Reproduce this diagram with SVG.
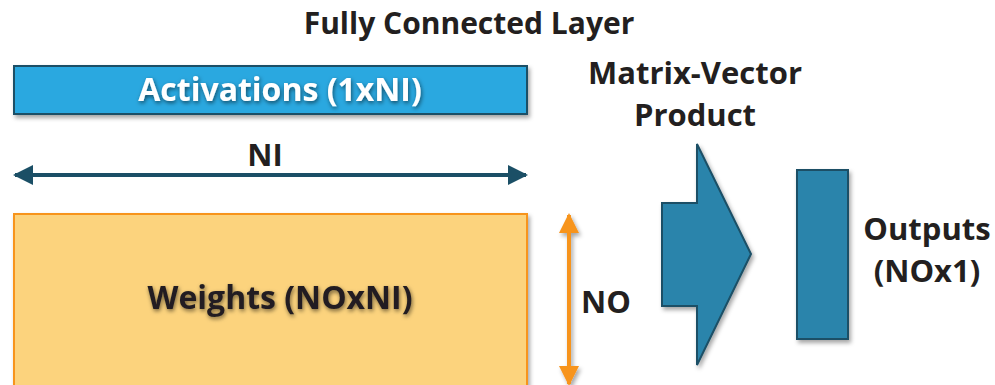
<svg xmlns="http://www.w3.org/2000/svg" width="995" height="385" viewBox="0 0 995 385">
<defs>
<style>
text{font-family:"Open Sans","Liberation Sans",sans-serif;font-weight:bold;}
.lbl{fill:#231F20;font-size:31px;}
.blue{fill:#2A84AB;stroke:#1A4F66;stroke-width:2;}
</style>
<filter id="sh" x="-10%" y="-10%" width="130%" height="140%">
<feDropShadow dx="2" dy="3" stdDeviation="2" flood-color="#000" flood-opacity="0.35"/>
</filter>
<filter id="lsh" filterUnits="userSpaceOnUse" x="540" y="200" width="60" height="200">
<feDropShadow dx="2" dy="3" stdDeviation="2" flood-color="#000" flood-opacity="0.35"/>
</filter>
<filter id="tsh" x="-10%" y="-30%" width="120%" height="170%">
<feDropShadow dx="1" dy="2" stdDeviation="2" flood-color="#000" flood-opacity="0.55"/>
</filter>
<marker id="ah-navy" viewBox="0 0 10 10" refX="9" refY="5" markerWidth="5" markerHeight="5" orient="auto-start-reverse">
<path d="M0,0 L10,5 L0,10 Z" fill="#1B4F66"/>
</marker>
<marker id="ah-orange" viewBox="0 0 10 10" refX="9" refY="5" markerWidth="5" markerHeight="5" orient="auto-start-reverse">
<path d="M0,0 L10,5 L0,10 Z" fill="#F7941D"/>
</marker>
</defs>
<rect width="995" height="385" fill="#fff"/>
<text x="469" y="34" class="lbl" text-anchor="middle" style="font-size:30px">Fully Connected Layer</text>
<g id="activations">
<rect x="14" y="66" width="513" height="48" fill="#29A8E0" stroke="#1B4F66" stroke-width="2" filter="url(#sh)"/>
<text x="280" y="101" font-size="32" fill="#fff" text-anchor="middle" filter="url(#tsh)">Activations (1xNI)</text>
</g>
<g id="weights">
<rect x="14" y="214" width="513" height="175" fill="#FCD37D" stroke="#F7941D" stroke-width="2" filter="url(#sh)"/>
<text x="280" y="309" font-size="32" fill="#231F20" text-anchor="middle" filter="url(#tsh)">Weights (NOxNI)</text>
</g>
<g id="matvec">
<path class="blue" d="M662,203 L697,203 L697,144 L751,254 L697,365 L697,306 L662,306 Z" filter="url(#sh)"/>
<text x="695" y="84" class="lbl" text-anchor="middle">Matrix-Vector</text>
<text x="695" y="126" class="lbl" text-anchor="middle">Product</text>
</g>
<g id="outputs">
<rect class="blue" x="797" y="170" width="51" height="169" filter="url(#sh)"/>
<text x="927" y="240" class="lbl" text-anchor="middle">Outputs</text>
<text x="927" y="282" class="lbl" text-anchor="middle">(NOx1)</text>
</g>
<g id="connectors">
<line x1="15" y1="175" x2="526" y2="175" stroke="#1B4F66" stroke-width="4" marker-start="url(#ah-navy)" marker-end="url(#ah-navy)"/>
<text x="265" y="166" class="lbl" text-anchor="middle">NI</text>
<line x1="569" y1="215" x2="569" y2="384" stroke="#F7941D" stroke-width="4" marker-start="url(#ah-orange)" marker-end="url(#ah-orange)" filter="url(#lsh)"/>
<text x="606" y="313" class="lbl" text-anchor="middle">NO</text>
</g>
</svg>
